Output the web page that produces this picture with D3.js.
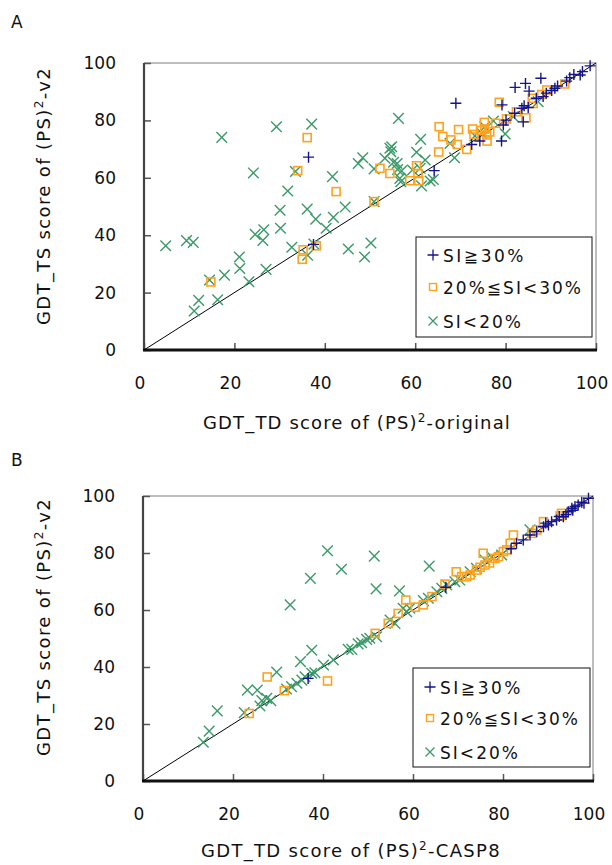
<!DOCTYPE html>
<html><head><meta charset="utf-8">
<script src="https://cdn.jsdelivr.net/npm/d3@7/dist/d3.min.js"></script>
<style>body{margin:0;background:#fff}svg{display:block}text{font-family:"DejaVu Sans",Verdana,sans-serif}</style>
</head><body>
<script>
// ---------- DATA ----------
const tickValues = [0, 20, 40, 60, 80, 100];
const legendLabels = ["SI\u226730%", "20%\u2266SI<30%", "SI<20%"];
const panelLabels = ["A", "B"];
const xTitles = ["GDT_TD score of (PS)|2|-original", "GDT_TD score of (PS)|2|-CASP8"];
const yTitle = "GDT_TS score of (PS)|2|-v2";

// Panel A: [x, y]
const aHigh = [[36.4,67.2],[37.5,36.8],[69.0,86.0],[82.1,91.5],[84.4,92.9],[87.8,94.7],[85.2,90.2],[79.2,85.4],[64.2,62.5],[74.3,72.8],[72.5,71.6],[79.1,72.8],[79.5,78.4],[80.1,80.1],[83.6,84.2],[84.1,85.1],[83.9,79.5],[88.3,88.3],[90.2,90.4],[90.9,91.2],[94.2,94.9],[95.1,96.0],[96.5,95.8],[98.7,99.0],[93.5,93.7],[86.8,87.7],[85.0,84.5],[82.0,82.5],[91.5,92.0],[89.0,89.5],[97.0,97.0]];
const aMid = [[36.1,74.0],[34.0,62.5],[42.5,55.2],[50.9,51.7],[14.8,23.7],[35.2,34.9],[35.0,31.6],[38.1,36.3],[52.2,63.3],[78.6,86.3],[65.3,77.8],[69.6,76.8],[66.1,74.4],[67.9,73.2],[69.3,71.6],[71.4,69.9],[65.2,69.0],[72.7,77.0],[73.0,75.1],[75.3,79.3],[75.4,77.0],[75.8,74.9],[75.9,72.8],[80.2,80.5],[82.4,83.0],[84.5,80.9],[85.9,87.7],[86.1,85.9],[89.1,90.6],[93.1,92.7],[60.3,64.2],[60.6,61.5],[54.4,61.5],[58.8,59.0],[60.8,59.0],[76.5,76.0],[74.5,76.5],[77.8,79.0],[88.0,89.0]];
const aLow = [[4.8,36.3],[9.4,38.1],[10.9,37.5],[17.2,74.1],[29.3,77.8],[37.1,78.7],[24.2,61.7],[33.5,62.2],[31.8,55.4],[41.7,60.4],[30.1,48.7],[36.1,49.1],[38.0,45.6],[41.9,46.2],[44.5,49.8],[40.3,42.4],[24.6,40.3],[26.5,41.9],[26.3,38.2],[30.2,42.4],[32.7,35.8],[36.2,33.0],[37.6,36.9],[45.2,35.2],[50.2,37.3],[48.8,32.4],[47.4,65.0],[48.4,67.0],[50.9,63.1],[21.1,32.4],[21.2,28.4],[17.8,26.1],[14.5,24.4],[12.1,17.3],[11.1,13.6],[16.3,17.5],[23.2,23.8],[27.0,28.1],[50.9,51.7],[56.3,80.7],[61.2,73.4],[54.8,70.8],[54.6,69.1],[53.3,66.8],[55.2,65.4],[56.1,62.9],[57.0,62.4],[60.3,68.9],[62.2,66.2],[56.8,58.6],[59.4,62.7],[61.4,57.2],[63.3,58.9],[64.0,59.4],[67.7,72.0],[68.7,67.0],[73.2,74.6],[75.4,77.8],[77.3,79.8],[79.9,75.3],[81.7,81.3],[87.2,86.5],[54.4,70.3],[56.0,65.0],[56.6,59.8],[61.1,63.3],[74.7,75.5]];

// Panel B: [x, y]
const bHigh = [[36.7,36.0],[67.3,68.0],[83.0,83.4],[84.5,84.6],[86.0,86.3],[87.5,87.5],[89.0,89.2],[90.1,89.8],[90.8,91.0],[91.9,91.6],[93.4,92.7],[94.5,94.5],[95.3,95.7],[96.0,96.3],[96.7,96.8],[99.0,99.2],[89.5,90.5],[92.5,92.8],[94.0,93.5],[95.5,95.0],[97.5,97.8],[98.0,97.5],[81.8,81.5]];
const bMid = [[27.6,36.5],[41.0,35.1],[31.4,31.7],[23.6,23.7],[51.6,51.8],[82.3,86.3],[75.6,79.9],[69.6,73.4],[67.1,69.1],[58.4,63.5],[56.7,58.8],[54.5,55.3],[64.2,64.7],[71.9,71.7],[74.9,75.0],[76.0,75.8],[78.2,78.1],[79.0,78.7],[80.1,80.5],[80.8,81.1],[81.6,83.4],[86.4,86.9],[87.5,88.1],[89.0,91.0],[92.7,93.0],[93.0,93.9],[74.1,74.0],[72.7,72.3],[70.8,71.7],[62.3,61.8],[60.5,61.0],[77.0,76.5]];
const bLow = [[41.0,80.8],[51.4,78.9],[44.1,74.3],[37.2,71.1],[51.8,67.4],[32.7,61.8],[37.5,45.9],[35.0,41.9],[29.7,38.2],[23.2,31.9],[25.4,31.9],[16.5,24.6],[14.7,17.5],[13.4,13.6],[22.5,24.0],[26.4,28.2],[27.5,29.0],[26.0,26.3],[28.4,28.2],[42.3,42.5],[40.1,40.7],[46.4,46.2],[48.6,48.5],[49.7,49.7],[31.9,32.3],[33.0,33.1],[34.2,34.3],[35.3,35.4],[36.0,36.6],[37.5,37.8],[38.2,38.0],[45.6,46.2],[47.8,48.1],[50.4,50.1],[57.0,66.7],[63.6,75.4],[57.8,60.6],[58.6,59.4],[59.3,60.6],[62.3,63.3],[63.4,64.1],[65.3,66.4],[66.4,67.6],[67.5,68.8],[69.3,69.9],[70.4,70.5],[72.7,73.4],[74.1,74.6],[76.0,77.5],[77.5,78.7],[79.7,79.3],[86.0,88.1],[54.9,56.5],[51.9,50.6],[56.0,55.3]];

const diagonal = [[0,0],[100,100]];

// ---------- DRAW ----------
const W = 612, H = 865;
const svg = d3.select("body").append("svg").attr("width", W).attr("height", H);
const FS = 17;
const colHigh = "#14148c", colMid = "#ffa31f", colLow = "#3a9a68";

function titleText(sel, str) {
  const parts = str.split("|");
  sel.append("tspan").text(parts[0]);
  sel.append("tspan").attr("font-size", 12).attr("dy", -7).text(parts[1]);
  sel.append("tspan").attr("dy", 7).text(parts[2]);
}
// spread letters so the text spans the width measured on the reference
function fitWidth(sel, target) {
  const node = sel.node();
  const len = node.getComputedTextLength();
  const n = node.textContent.length;
  if (n > 1) sel.attr("letter-spacing", (target - len) / n);
}

function drawPanel(o) {
  const x = d3.scaleLinear().domain([0, 100]).range([o.x0, o.x1]);
  const y = d3.scaleLinear().domain([0, 100]).range([o.y0, o.y1]);
  const g = svg.append("g");

  g.append("path").attr("d", `M${o.x0},${o.y1}H${o.x1}V${o.y0}`)
    .attr("fill", "none").attr("stroke", "#a8a8a8").attr("stroke-width", 1.5);

  const xAxis = d3.axisTop(x).tickValues(tickValues).tickSize(7).tickFormat("");
  const gx = g.append("g").attr("transform", `translate(0,${o.y0})`).call(xAxis);
  gx.select(".domain").remove();
  gx.selectAll(".tick line").attr("stroke", "#555").attr("stroke-width", 1.5);
  const yAxis = d3.axisRight(y).tickValues(tickValues).tickSize(7).tickFormat("");
  const gy = g.append("g").attr("transform", `translate(${o.x0},0)`).call(yAxis);
  gy.select(".domain").remove();
  gy.selectAll(".tick line").attr("stroke", "#555").attr("stroke-width", 1.5);

  g.append("line").attr("x1", o.x0).attr("x2", o.x0).attr("y1", o.y1).attr("y2", o.y0)
    .attr("stroke", "#444").attr("stroke-width", 2.2);
  g.append("line").attr("x1", o.x0 - 1).attr("x2", o.x1 + 1).attr("y1", o.y0).attr("y2", o.y0)
    .attr("stroke", "#111").attr("stroke-width", 2.8);

  g.selectAll(".xl").data(tickValues).join("text")
    .attr("x", d => x(d) - 4).attr("y", o.y0 + 39).attr("text-anchor", "middle")
    .attr("font-size", FS).attr("fill", "#111").text(d => d);
  g.selectAll(".yl").data(tickValues).join("text")
    .attr("x", o.x0 - 28).attr("y", d => y(d) + 6).attr("text-anchor", "end")
    .attr("font-size", FS).attr("fill", "#111").text(d => d);

  g.append("path").attr("d", d3.line().x(d => x(d[0])).y(d => y(d[1]))(diagonal))
    .attr("stroke", "#000").attr("stroke-width", 1).attr("fill", "none");

  const s = 5.3;
  g.append("g").selectAll("path").data(o.low).join("path")
    .attr("d", d => `M${x(d[0])-s},${y(d[1])-s}L${x(d[0])+s},${y(d[1])+s}M${x(d[0])-s},${y(d[1])+s}L${x(d[0])+s},${y(d[1])-s}`)
    .attr("stroke", colLow).attr("stroke-width", 1.4).attr("fill", "none");
  g.append("g").selectAll("rect").data(o.mid).join("rect")
    .attr("x", d => x(d[0]) - 4).attr("y", d => y(d[1]) - 4).attr("width", 8).attr("height", 8)
    .attr("stroke", colMid).attr("stroke-width", 1.6).attr("fill", "none");
  g.append("g").selectAll("path").data(o.high).join("path")
    .attr("d", d => `M${x(d[0])-5.5},${y(d[1])}H${x(d[0])+5.5}M${x(d[0])},${y(d[1])-5.5}V${y(d[1])+5.5}`)
    .attr("stroke", colHigh).attr("stroke-width", 1.4).attr("fill", "none");

  const L = o.legend;
  g.append("rect").attr("x", L.x).attr("y", L.y).attr("width", L.w).attr("height", L.h)
    .attr("fill", "#fff").attr("stroke", "#111").attr("stroke-width", 1);
  const mx = L.x + 17, tx = L.x + 27;
  const legW = [83, 140, 80];
  L.rows.forEach((ry, i) => {
    if (i === 0) g.append("path").attr("d", `M${mx-5.5},${ry}H${mx+5.5}M${mx},${ry-5.5}V${ry+5.5}`).attr("stroke", colHigh).attr("stroke-width", 1.3);
    if (i === 1) g.append("rect").attr("x", mx-3.5).attr("y", ry-3.5).attr("width", 7).attr("height", 7).attr("fill", "none").attr("stroke", colMid).attr("stroke-width", 1.4);
    if (i === 2) g.append("path").attr("d", `M${mx-4.5},${ry-4.5}L${mx+4.5},${ry+4.5}M${mx-4.5},${ry+4.5}L${mx+4.5},${ry-4.5}`).attr("stroke", colLow).attr("stroke-width", 1.3);
    const t = g.append("text").attr("x", tx).attr("y", ry + 6.5).attr("font-size", FS).attr("fill", "#111")
      .text(legendLabels[i]);
    fitWidth(t, legW[i]);
  });

  const xt = g.append("text").attr("x", o.xtX).attr("y", o.xtY).attr("text-anchor", "middle")
    .attr("font-size", 18).attr("fill", "#111");
  titleText(xt, o.xTitle);
  fitWidth(xt, o.xtW);
  const yt = g.append("text").attr("transform", `translate(50,${o.ytY}) rotate(-90)`).attr("text-anchor", "middle")
    .attr("font-size", 18).attr("fill", "#111");
  titleText(yt, yTitle);
  fitWidth(yt, 258);
  g.append("text").attr("x", 11).attr("y", o.labY).attr("font-size", FS).attr("fill", "#111").text(o.label);
}

drawPanel({x0: 144, x1: 596, y0: 350, y1: 63, high: aHigh, mid: aMid, low: aLow,
  legend: {x: 416, y: 237, w: 176, h: 100, rows: [255, 287, 321]},
  xTitle: xTitles[0], xtX: 357, xtY: 429, xtW: 308, ytY: 196, label: panelLabels[0], labY: 28});
drawPanel({x0: 143, x1: 593, y0: 781, y1: 496, high: bHigh, mid: bMid, low: bLow,
  legend: {x: 413, y: 668, w: 177, h: 99, rows: [687, 718, 752]},
  xTitle: xTitles[1], xtX: 351, xtY: 857, xtW: 300, ytY: 627, label: panelLabels[1], labY: 466});
</script>
</body></html>
